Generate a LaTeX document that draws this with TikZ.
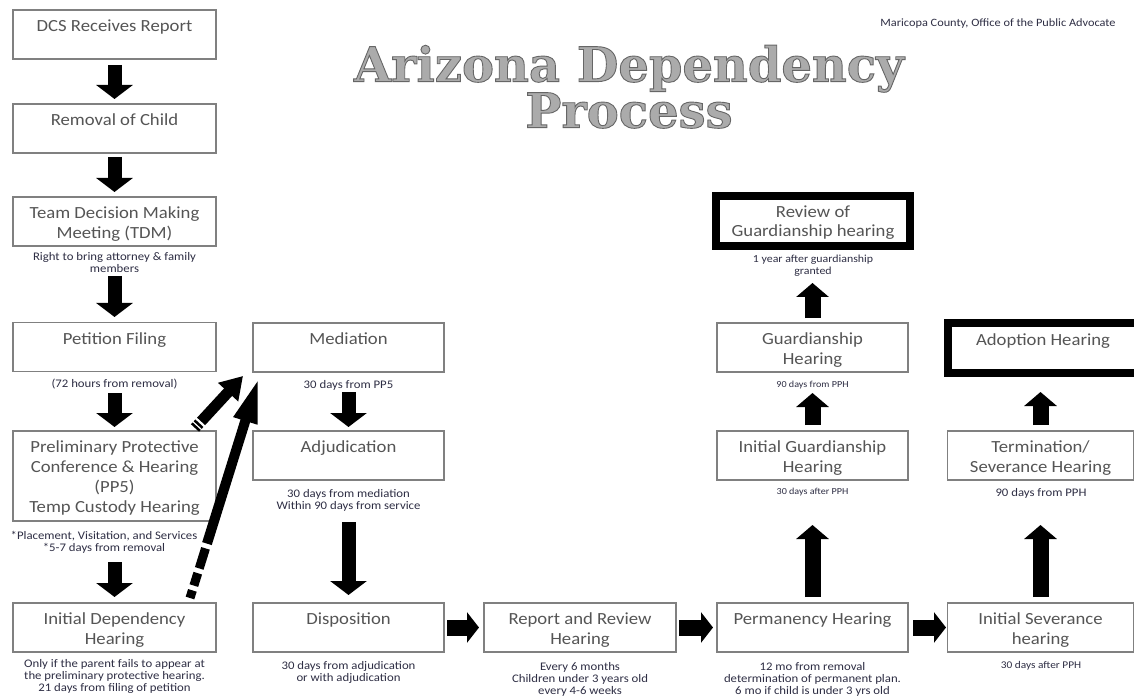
\documentclass[tikz,border=0pt]{standalone}
\usepackage{fontspec}
\setmainfont{Carlito}[FakeStretch=1.1]
\newfontfamily\titlefamily{DejaVu Serif}[FakeStretch=1.0]
\usetikzlibrary{arrows.meta,calc}
\definecolor{boxtxt}{HTML}{555555}
\definecolor{notetxt}{HTML}{2E2E44}
\definecolor{boxline}{HTML}{808080}
\definecolor{titlefill}{HTML}{ABABAB}
\newcommand{\outlinedtext}[1]{\special{pdf:literal direct 2 Tr 0.9 w 0.4 G}#1\special{pdf:literal direct 0 Tr}}
\begin{document}
\begin{tikzpicture}[x=1pt,y=-1pt,
  box/.style={draw=boxline, line width=1.3pt, minimum width=#1, minimum height=49pt, inner sep=0pt, outer sep=0pt},
  box/.default=191pt,
  thickbox/.style={draw=black, line width=8pt, minimum width=#1, minimum height=50pt, inner sep=0pt, outer sep=0pt},
  bt/.style={anchor=north, yshift=-9.5pt, inner sep=0pt, align=center, text=boxtxt, font=\fontsize{17}{19.5}\selectfont},
  note/.style={inner sep=0pt, align=center, text=notetxt, font=\fontsize{11.6}{12}\selectfont},
  smallnote/.style={note, font=\fontsize{9.2}{11}\selectfont},
  vdown/.style={draw=black, line width=14pt, -{Triangle[width=36pt,length=14pt]}},
  vup/.style={draw=black, line width=16pt, -{Triangle[width=32pt,length=14pt]}},
  hright/.style={draw=black, line width=16pt, -{Triangle[width=30pt,length=12pt]}},
  titletext/.style={anchor=north, inner sep=0pt, align=center, text=titlefill, font=\titlefamily\bfseries\fontsize{48}{46}\selectfont}
]
\useasboundingbox (0,0) rectangle (1134,700);
\fill[white] (0,0) rectangle (1134,700);
\clip (0,0) rectangle (1134,700);

% title and source
\node[titletext] (title) at (629,45) {\outlinedtext{Arizona Dependency}\\\outlinedtext{Process}};
\node[note, font=\fontsize{11.2}{12}\selectfont] (source) at (998,24) {Maricopa County, Office of the Public Advocate};

% left column
\node[box=203pt, label={[bt]north:DCS Receives Report}] (dcs) at (114.5,34.5) {};
\node[box=203pt, label={[bt]north:Removal of Child}] (removal) at (114.5,128.5) {};
\node[box=203pt, label={[bt]north:Team Decision Making\\Meeting (TDM)}] (tdm) at (114.5,221.5) {};
\node[note] (tdmnote) at (114.5,263) {Right to bring attorney \& family\\members};
\node[box=203pt, label={[bt]north:Petition Filing}] (petition) at (114.5,347) {};
\node[note] (petnote) at (114.5,384) {(72 hours from removal)};
\node[box=203pt, minimum height=90pt, label={[bt, font=\fontsize{17}{20}\selectfont]north:Preliminary Protective\\Conference \& Hearing\\(PP5)\\Temp Custody Hearing}] (pp5) at (114.5,476) {};
\node[note] (pp5note) at (104,542) {*Placement, Visitation, and Services\\*5-7 days from removal};
\node[box=203pt, label={[bt]north:Initial Dependency\\Hearing}] (idh) at (114.5,627.5) {};
\node[note] (idhnote) at (114.5,676) {Only if the parent fails to appear at\\the preliminary protective hearing.\\21 days from filing of petition};

% middle column
\node[box, label={[bt]north:Mediation}] (mediation) at (348.5,347.5) {};
\node[note] (mednote) at (348.5,385) {30 days from PP5};
\node[box, label={[bt]north:Adjudication}] (adj) at (348.5,455.5) {};
\node[note] (adjnote) at (348.5,500) {30 days from mediation\\Within 90 days from service};
\node[box, label={[bt]north:Disposition}] (disp) at (348.5,627.5) {};
\node[note] (dispnote) at (348.5,672) {30 days from adjudication\\or with adjudication};

% bottom row
\node[box=192pt, label={[bt]north:Report and Review\\Hearing}] (report) at (580,627.5) {};
\node[note] (repnote) at (580,679) {Every 6 months\\Children under 3 years old\\every 4-6 weeks};
\node[box, label={[bt]north:Permanency Hearing}] (perm) at (812.5,627.5) {};
\node[note] (permnote) at (812.5,679) {12 mo from removal\\determination of permanent plan.\\6 mo if child is under 3 yrs old};
\node[box=186pt, label={[bt]north:Initial Severance\\hearing}] (sev) at (1040.5,627.5) {};
\node[note, font=\fontsize{10.3}{12}\selectfont] (sevnote) at (1041,666) {30 days after PPH};

% guardianship column
\node[box, label={[bt]north:Initial Guardianship\\Hearing}] (igh) at (812.5,455.5) {};
\node[smallnote] (ighnote) at (812.5,492) {30 days after PPH};
\node[box, label={[bt]north:Guardianship\\Hearing}] (guard) at (812.5,347.5) {};
\node[smallnote] (guardnote) at (812.5,385) {90 days from PPH};
\node[thickbox=194pt, label={[bt]north:Review of\\Guardianship hearing}] (review) at (813,221) {};
\node[note, font=\fontsize{10.8}{12}\selectfont] (revnote) at (813,266) {1 year after guardianship\\granted};

% adoption column
\node[box=186pt, label={[bt]north:Termination/\\Severance Hearing}] (term) at (1040.5,455.5) {};
\node[note] (termnote) at (1041,493) {90 days from PPH};
\node[thickbox=197pt, label={[bt, xshift=-3pt, yshift=-1pt]north:Adoption Hearing}] (adopt) at (1046,347.5) {};

% block arrows, left column
\draw[vdown, shorten <=6pt, shorten >=5pt] (dcs.south) -- (removal.north);
\draw[vdown, shorten <=4pt, shorten >=5pt] (removal.south) -- (tdm.north);
\draw[vdown, shorten <=30pt, shorten >=5.5pt] (tdm.south) -- (petition.north);
\draw[vdown, shorten <=21.5pt, shorten >=4pt] (petition.south) -- (pp5.north);
\draw[vdown, shorten <=41pt, shorten >=6pt] (pp5.south) -- (idh.north);
% middle column
\draw[vdown, shorten <=20pt, shorten >=4pt] (mediation.south) -- (adj.north);
\draw[vdown, shorten <=42pt, shorten >=8pt] (adj.south) -- (disp.north);
% bottom row
\draw[hright, shorten <=3pt, shorten >=5pt] (disp.east) -- (report.west);
\draw[hright, shorten <=3pt, shorten >=4pt] (report.east) -- (perm.west);
\draw[hright, shorten <=5pt, shorten >=1.5pt] (perm.east) -- (sev.west);
% up arrows
\draw[vup, shorten <=6pt, shorten >=45pt] (perm.north) -- (igh.south);
\draw[vup, shorten <=6pt, shorten >=21pt] (igh.north) -- (guard.south);
\draw[vup, shorten <=5pt, shorten >=37pt] (guard.north) -- (guard.north |- review.south);
\draw[vup, shorten <=6pt, shorten >=45pt] (sev.north) -- (term.south);
\draw[vup, shorten <=6pt, shorten >=19.5pt] (term.north) -- (term.north |- adopt.south);

% diagonal striped arrows to mediation
\coordinate (s0) at (195,428);
\coordinate (s1) at (243,376);
\coordinate (sm) at ($(s0)!9pt!(s1)$);
\draw[line width=11pt, dash pattern=on 2.5pt off 1.5pt on 2.5pt off 10pt] (s0) -- (sm);
\draw[line width=11pt, -{Triangle[width=26pt,length=22pt]}] (sm) -- (s1);

\coordinate (l0) at (190,598);
\coordinate (l1) at (259,377);
\coordinate (lm) at ($(l0)!57pt!(l1)$);
\draw[line width=9pt, dash pattern=on 8pt off 5pt on 13pt off 5pt on 21pt off 20pt] (l0) -- (lm);
\draw[line width=10pt, -{Triangle[width=22pt,length=46pt]}] (lm) -- (l1);
\end{tikzpicture}
\end{document}
